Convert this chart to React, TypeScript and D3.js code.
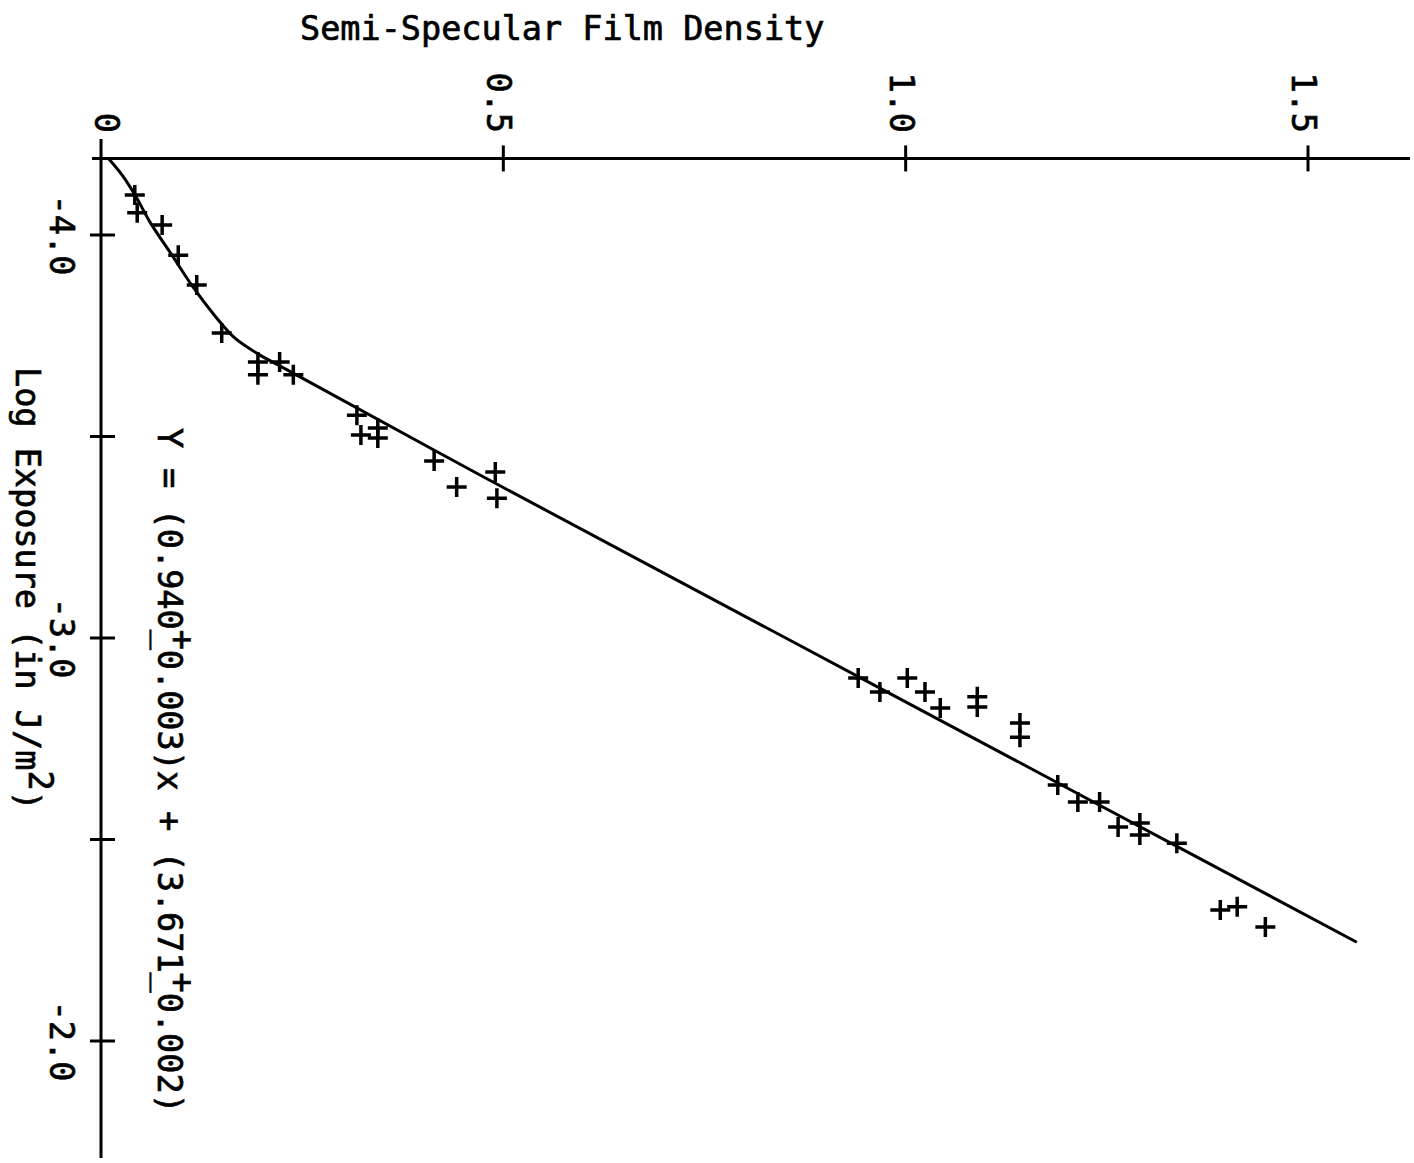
import React from "react";
import * as d3 from "d3";

// Film characteristic curve: semi-specular density vs. log exposure.
// Plotted with exposure running down the page and density across.

const WIDTH = 1414;
const HEIGHT = 1163;

// Measured points: log exposure (J/m^2) and film density
const pointLogE = [
  -4.099, -4.055, -4.025, -3.95, -3.876, -3.757, -3.685, -3.653, -3.685, -3.653,
  -3.553, -3.504, -3.521, -3.496, -3.439, -3.375, -3.412, -3.347,
  -2.901, -2.866, -2.901, -2.866, -2.826, -2.854, -2.829, -2.789, -2.754,
  -2.635, -2.593, -2.593, -2.531, -2.541, -2.511, -2.491, -2.325, -2.333, -2.283,
];
const pointDensity = [
  0.042, 0.045, 0.076, 0.096, 0.119, 0.15, 0.195, 0.195, 0.222, 0.239,
  0.318, 0.323, 0.344, 0.344, 0.414, 0.442, 0.49, 0.492,
  0.941, 0.968, 1.002, 1.024, 1.043, 1.089, 1.089, 1.142, 1.142,
  1.189, 1.214, 1.241, 1.264, 1.291, 1.291, 1.337, 1.391, 1.412, 1.447,
];

// Toe of the curve (below the straight-line region)
const toeLogE = [
  -4.191, -4.149, -4.099, -4.032, -3.95, -3.871, -3.799, -3.744, -3.705,
  -3.675, -3.648,
];
const toeDensity = [
  0.0087, 0.0261, 0.0423, 0.0609, 0.0882, 0.1143, 0.1417, 0.1665, 0.1951,
  0.2224, 0.2473,
];

// Straight-line fit  y = (0.940±0.003)x + (3.671±0.002)
const fitSlope = 0.94;
const fitIntercept = 3.671;
const fitLogE = [-3.4, -3.0, -2.6, -2.245];

const densityTicks = [0.5, 1.0, 1.5];
const densityLabels = [
  { v: 0, t: "0" },
  { v: 0.5, t: "0.5" },
  { v: 1.0, t: "1.0" },
  { v: 1.5, t: "1.5" },
];
const exposureTicks = [-4.0, -3.5, -3.0, -2.5, -2.0];
const exposureLabels = [
  { v: -4.0, t: "-4.0" },
  { v: -3.0, t: "-3.0" },
  { v: -2.0, t: "-2.0" },
];

const AXIS_LOGE = -4.19;

const FONT = "'DejaVu Sans Mono', 'Liberation Mono', monospace";
const FS = 33.5;
const ADV = 0.602 * FS;

export default function App() {
  const x = d3.scaleLinear().domain([0, 1.5]).range([101, 1308]);
  const y = d3.scaleLinear().domain([-4, -2]).range([235, 1041]);

  const axisY = y(AXIS_LOGE);
  const axisX = x(0);

  const curvePts: [number, number][] = [
    ...toeLogE.map((e, i) => [e, toeDensity[i]] as [number, number]),
    ...fitLogE.map((e) => [e, fitSlope * e + fitIntercept] as [number, number]),
  ];
  const line = d3
    .line<[number, number]>()
    .x((d) => x(d[1]))
    .y((d) => y(d[0]))
    .curve(d3.curveCatmullRom.alpha(0.5));

  const ink = "#000";
  const textInk = { fill: ink, stroke: ink, strokeWidth: 0.7 };

  return (
    <svg
      width={WIDTH}
      height={HEIGHT}
      style={{ position: "absolute", left: 0, top: 0, background: "#fff" }}
      fontFamily={FONT}
      fontSize={FS}
    >
      <rect width={WIDTH} height={HEIGHT} fill="#fff" />

      {/* title */}
      <text x={300} y={40} {...textInk}>
        Semi-Specular Film Density
      </text>

      {/* density axis (top) */}
      <line x1={92} x2={1410} y1={axisY} y2={axisY} stroke={ink} strokeWidth={3} />
      {densityTicks.map((t) => (
        <line
          key={t}
          x1={x(t)}
          x2={x(t)}
          y1={axisY - 13}
          y2={axisY + 13}
          stroke={ink}
          strokeWidth={3}
        />
      ))}
      {densityLabels.map((d) => (
        <text
          key={d.t}
          transform={`translate(${x(d.v) - (d.v === 0 ? 6 : 16)},133) rotate(90)`}
          textAnchor="end"
          {...textInk}
        >
          {d.t}
        </text>
      ))}

      {/* log exposure axis (left) */}
      <line x1={axisX} x2={axisX} y1={139} y2={1158} stroke={ink} strokeWidth={3} />
      {exposureTicks.map((t) => (
        <line
          key={t}
          x1={axisX - 11}
          x2={axisX + 14}
          y1={y(t)}
          y2={y(t)}
          stroke={ink}
          strokeWidth={3}
        />
      ))}
      {exposureLabels.map((d) => (
        <text
          key={d.t}
          transform={`translate(50,${y(d.v)}) rotate(90)`}
          textAnchor="middle"
          {...textInk}
        >
          {d.t}
        </text>
      ))}

      {/* axis title */}
      <text transform="translate(16,367) rotate(90)" {...textInk}>
        Log Exposure (in J/m
        <tspan dy={-0.4 * FS}>2</tspan>
        <tspan dy={0.4 * FS}>)</tspan>
      </text>

      {/* fitted equation */}
      <text transform="translate(158,428) rotate(90)" {...textInk}>
        <tspan>Y = (0.940</tspan>
        <tspan>_</tspan>
        <tspan dx={-ADV} dy={-0.38 * FS}>+</tspan>
        <tspan dy={0.38 * FS}>0.003)x + (3.671</tspan>
        <tspan>_</tspan>
        <tspan dx={-ADV} dy={-0.38 * FS}>+</tspan>
        <tspan dy={0.38 * FS}>0.002)</tspan>
      </text>

      {/* characteristic curve */}
      <path d={line(curvePts) || ""} fill="none" stroke={ink} strokeWidth={3} />

      {/* data points */}
      {pointLogE.map((e, i) => (
        <path
          key={i}
          transform={`translate(${x(pointDensity[i])},${y(e)})`}
          d="M-10,0H10M0,-10V10"
          stroke={ink}
          strokeWidth={3.5}
          fill="none"
        />
      ))}
    </svg>
  );
}
